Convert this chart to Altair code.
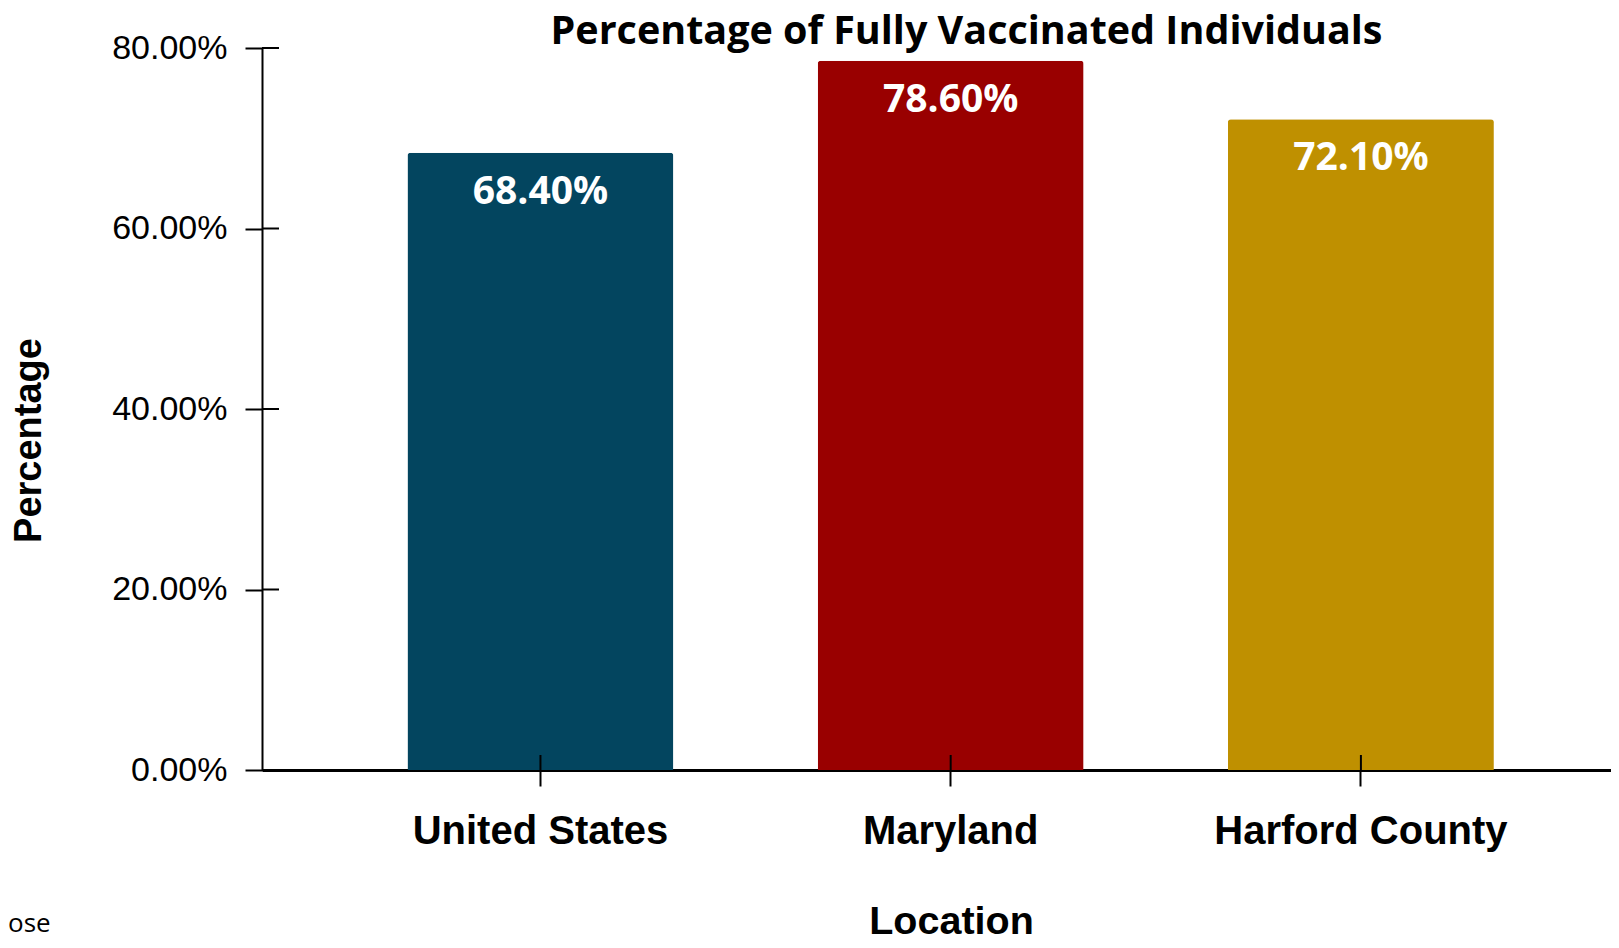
import altair as alt
import pandas as pd

# ---- data ----
locations = ["United States", "Maryland", "Harford County"]
values = [0.684, 0.786, 0.721]
bar_colors = ["#03455f", "#990000", "#bf9000"]
y_tick_values = [0.0, 0.2, 0.4, 0.6, 0.8]
chart_title = "Percentage of Fully Vaccinated Individuals"
x_title = "Location"
y_title = "Percentage"
stray_text = ["ose"]

df = pd.DataFrame({"Location": locations, "Percentage": values})
ticks_df = pd.DataFrame({"Percentage": y_tick_values})
stray_df = pd.DataFrame({"t": stray_text})

W, H = 1349, 722

x_scale = alt.Scale(domain=locations, paddingInner=0.3516, paddingOuter=0.32, align=0.554)
y_scale = alt.Scale(domain=[0, 0.8], nice=False, zero=True)

x_axis = alt.Axis(
    title=x_title, labelFont="Liberation Sans", labelFontSize=40, labelFontWeight="bold",
    labelColor="black", labelAngle=0, labelBaseline="alphabetic", labelPadding=57, labelLimit=0,
    tickSize=16, tickWidth=2, tickColor="black", domainColor="black", domainWidth=3,
    grid=False, titleFont="Liberation Sans", titleFontSize=39.5, titleFontWeight="bold",
    titleColor="black", titleX=689, titleY=163, titleBaseline="alphabetic", titleAlign="center",
)
y_axis = alt.Axis(
    title=y_title, format=".2%", values=y_tick_values, labelFont="Liberation Sans",
    labelFontSize=34, labelColor="black", labelPadding=18, tickSize=17, tickWidth=2,
    tickColor="black", domainColor="black", domainWidth=2, grid=False,
    titleFont="Liberation Sans", titleFontSize=38, titleFontWeight="bold", titleColor="black",
    titleAngle=270, titleX=-233, titleY=392, titleBaseline="middle", titleAlign="center",
)

base = alt.Chart(df)

bars = base.mark_bar(cornerRadiusTopLeft=3, cornerRadiusTopRight=3).encode(
    x=alt.X("Location:N", scale=x_scale, sort=locations, axis=x_axis),
    y=alt.Y("Percentage:Q", scale=y_scale, axis=y_axis),
    color=alt.Color("Location:N", scale=alt.Scale(domain=locations, range=bar_colors), legend=None),
)

labels = base.mark_text(font="Open Sans", fontWeight="bold", fontSize=39, color="white",
                        baseline="middle", dy=39).encode(
    x=alt.X("Location:N", scale=x_scale, sort=locations),
    y=alt.Y("Percentage:Q", scale=y_scale),
    text=alt.Text("Percentage:Q", format=".2%"),
)

x_inner_ticks = base.mark_rule(color="black", strokeWidth=2).encode(
    x=alt.X("Location:N", scale=x_scale, sort=locations),
    y=alt.value(H - 15),
    y2=alt.value(H),
)

y_inner_ticks = alt.Chart(ticks_df).mark_rule(color="black", strokeWidth=2).encode(
    y=alt.Y("Percentage:Q", scale=y_scale),
    x=alt.value(0),
    x2=alt.value(17),
)

stray = alt.Chart(stray_df).mark_text(font="Open Sans", fontSize=26, color="black",
                                      align="left", baseline="alphabetic").encode(
    text="t:N",
    x=alt.value(-254),
    y=alt.value(884),
)

chart = alt.layer(bars, labels, x_inner_ticks, y_inner_ticks, stray).properties(
    width=W,
    height=H,
    autosize=alt.AutoSizeParams(type="none"),
    padding={"left": 254, "top": 40, "right": 0, "bottom": 164},
    background="white",
    title=alt.TitleParams(chart_title, font="Open Sans", fontSize=39.5, fontWeight="bold",
                          color="black", anchor="middle", dx=30, offset=-21),
).configure_view(strokeWidth=0)

chart.save("out.html", embed_options={"renderer": "svg", "actions": False})
